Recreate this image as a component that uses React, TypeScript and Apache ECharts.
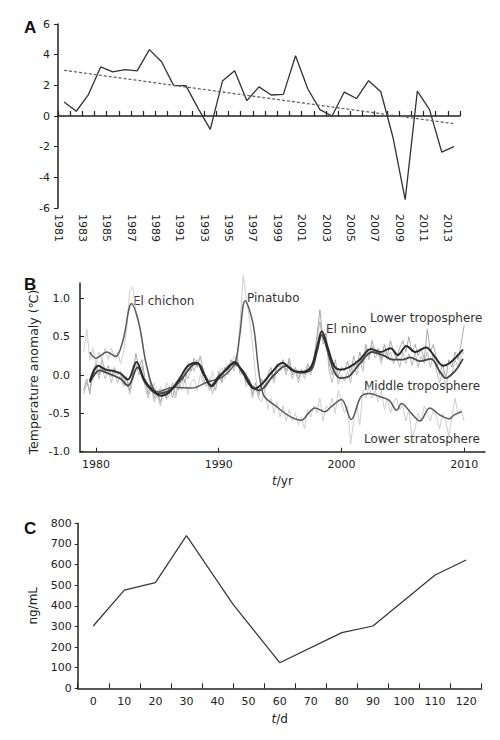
import { useEffect, useRef } from 'react';
import * as echarts from 'echarts';

const FONT = '"DejaVu Sans", Verdana, sans-serif';
const INK = '#222';

// ---------- Panel A ----------
const A_YEARS = ['1981','1982','1983','1984','1985','1986','1987','1988','1989','1990','1991','1992','1993','1994','1995','1996','1997','1998','1999','2000','2001','2002','2003','2004','2005','2006','2007','2008','2009','2010','2011','2012','2013'];
const A_TICK_YEARS = ['1981','1982','1983','1984','1985','1986','1987','1988','1989','1990','1991','1992','1993','1994','1995','1996','1997','1998','1999','2000','2001','2002','2003','2004','2005','2006','2007','2008','2009','2010','2011','2012','2013','2014'];
const A_VALUES = [0.92, 0.31, 1.4, 3.2, 2.88, 3.03, 2.94, 4.33, 3.54, 1.98, 1.98, 0.5, -0.87, 2.28, 2.95, 1.0, 1.9, 1.37, 1.41, 3.93, 1.78, 0.42, 0.0, 1.56, 1.14, 2.3, 1.58, -1.4, -5.45, 1.62, 0.42, -2.35, -2.0];
const A_TREND_START = 2.98;
const A_TREND_END = -0.5;

// ---------- Panel B ----------
const B_RAW_START = 1979;
const B_RAW_STEP = 0.25;
const B_LT_RAW = [
  -0.2, -0.05, -0.25, 0.05,
  0.15, 0.0, 0.2, 0.05,
  0.12, -0.02, 0.1, 0.0,
  0.05, -0.1, -0.02, -0.2,
  0.0, 0.28, 0.1, 0.2,
  -0.05, -0.25, -0.1, -0.3,
  -0.2, -0.35, -0.22, -0.3,
  -0.15, -0.3, -0.1, -0.2,
  0.0, -0.1, 0.15, 0.05,
  0.22, 0.1, 0.25, 0.05,
  -0.05, -0.2, -0.1, -0.2,
  0.05, -0.1, 0.1, 0.05,
  0.2, 0.1, 0.25, 0.05,
  0.05, -0.1, -0.05, -0.25,
  -0.1, -0.25, -0.05, -0.15,
  0.0, 0.1, -0.05, 0.15,
  0.1, 0.2, 0.05, 0.22,
  0.0, 0.1, -0.05, 0.08,
  0.0, 0.15, 0.05, 0.2,
  0.5, 0.85, 0.45, 0.55,
  0.15, 0.0, 0.2, -0.02,
  0.1, 0.05, 0.18, 0.02,
  0.25, 0.1, 0.3, 0.15,
  0.4, 0.25, 0.45, 0.3,
  0.35, 0.2, 0.4, 0.25,
  0.45, 0.3, 0.2, 0.35,
  0.45, 0.3, 0.5, 0.3,
  0.4, 0.25, 0.35, 0.2,
  0.6, 0.3, 0.4, 0.2,
  0.0, 0.15, -0.05, 0.2,
  0.1, 0.3, 0.2, 0.4,
  0.65,
];
const B_MT_RAW = [
  -0.25, -0.1, -0.2, 0.0,
  0.1, -0.05, 0.1, -0.05,
  0.05, -0.1, 0.05, -0.1,
  0.0, -0.15, -0.05, -0.25,
  -0.05, 0.15, 0.0, 0.12,
  -0.15, -0.3, -0.15, -0.35,
  -0.25, -0.4, -0.2, -0.32,
  -0.25, -0.1, -0.3, -0.05,
  -0.1, 0.05, -0.05, 0.15,
  0.05, 0.2, 0.1, -0.05,
  -0.15, -0.05, -0.25, -0.05,
  0.0, -0.1, 0.1, 0.0,
  0.15, 0.05, 0.2, 0.0,
  0.05, -0.15, -0.05, -0.3,
  -0.15, -0.3, -0.1, -0.2,
  -0.05, 0.05, -0.1, 0.1,
  0.05, 0.15, 0.0, 0.18,
  -0.05, 0.05, -0.1, 0.05,
  -0.05, 0.1, 0.0, 0.15,
  0.45, 0.7, 0.4, 0.5,
  0.05, -0.1, 0.1, -0.12,
  0.0, -0.08, 0.05, -0.1,
  0.15, 0.0, 0.22, 0.05,
  0.35, 0.2, 0.38, 0.22,
  0.3, 0.15, 0.32, 0.2,
  0.3, 0.15, 0.25, 0.1,
  0.3, 0.15, 0.28, 0.12,
  0.3, 0.1, 0.25, 0.15,
  0.3, 0.1, 0.28, 0.05,
  -0.1, 0.05, -0.15, 0.0,
  0.0, 0.2, 0.1, 0.25,
  0.3,
];
const B_ST_RAW = [
  0.3, 0.6, 0.2, 0.35,
  0.15, 0.3, 0.2, 0.35,
  0.2, 0.35, 0.25, 0.3,
  0.15, 0.3, 0.6, 1.1,
  1.15, 0.85, 0.7, 0.5,
  0.2, 0.0, -0.2, -0.1,
  -0.3, -0.15, -0.25, -0.1,
  -0.2, -0.1, -0.25, -0.1,
  -0.2, -0.05, -0.25, -0.1,
  -0.05, -0.2, 0.0, -0.1,
  0.0, -0.15, 0.05, -0.1,
  0.0, 0.1, -0.05, 0.15,
  0.1, 0.25, 0.2, 0.7,
  1.3, 1.0, 0.75, 0.4,
  0.0, -0.3, -0.35, -0.2,
  -0.45, -0.3, -0.5, -0.35,
  -0.55, -0.4, -0.6, -0.45,
  -0.6, -0.5, -0.65, -0.55,
  -0.7, -0.45, -0.55, -0.4,
  -0.5, -0.3, -0.6, -0.4,
  -0.45, -0.3, -0.5, -0.2,
  -0.35, -0.5, -0.4, -0.9,
  -0.6, -0.4, -0.65, -0.2,
  -0.3, -0.15, -0.3, -0.2,
  -0.35, -0.2, -0.45, -0.3,
  -0.5, -0.35, -0.3, -0.45,
  -0.4, -0.6, -0.45, -0.8,
  -0.7, -0.5, -0.6, -0.4,
  -0.5, -0.6, -0.45, -0.55,
  -0.7, -0.5, -0.6, -0.8,
  -0.55, -0.3, -0.5, -0.45,
  -0.6,
];
const B_LT_SMOOTH = [[1979.5,-0.08],[1980.2,0.12],[1980.8,0.07],[1981.5,0.05],[1982.0,0.02],[1982.6,-0.06],[1983.3,0.17],[1983.9,-0.05],[1984.5,-0.18],[1985.3,-0.27],[1986.0,-0.22],[1986.8,-0.05],[1987.5,0.12],[1988.2,0.16],[1988.8,0.0],[1989.4,-0.14],[1990.0,-0.02],[1990.7,0.08],[1991.3,0.17],[1992.0,0.02],[1992.9,-0.18],[1993.5,-0.12],[1994.3,0.03],[1995.2,0.16],[1996.0,0.06],[1996.8,0.04],[1997.5,0.1],[1998.0,0.35],[1998.4,0.57],[1998.9,0.35],[1999.4,0.12],[1999.9,0.07],[2000.6,0.1],[2001.5,0.2],[2002.4,0.34],[2003.2,0.3],[2004.0,0.35],[2004.6,0.26],[2005.3,0.38],[2006.0,0.3],[2006.9,0.36],[2007.6,0.24],[2008.3,0.12],[2009.0,0.18],[2009.9,0.33]];
const B_MT_SMOOTH = [[1979.5,-0.1],[1980.3,0.06],[1981.0,0.02],[1982.0,-0.05],[1982.6,-0.14],[1983.4,0.1],[1984.0,-0.1],[1985.0,-0.24],[1986.0,-0.2],[1987.0,-0.05],[1987.8,0.12],[1988.3,0.15],[1989.0,-0.04],[1989.4,-0.15],[1990.2,0.0],[1991.2,0.15],[1992.0,0.05],[1992.7,-0.14],[1993.3,-0.2],[1994.5,0.0],[1995.5,0.12],[1996.5,0.03],[1997.5,0.06],[1998.0,0.3],[1998.4,0.52],[1998.9,0.3],[1999.4,0.05],[1999.9,-0.04],[2000.6,-0.02],[2001.5,0.15],[2002.5,0.3],[2003.5,0.25],[2004.2,0.2],[2005.0,0.2],[2005.6,0.23],[2006.4,0.18],[2007.3,0.21],[2008.0,0.05],[2008.5,-0.04],[2009.3,0.06],[2009.9,0.21]];
const B_ST_SMOOTH = [[1979.5,0.3],[1980.0,0.22],[1980.9,0.3],[1981.6,0.24],[1982.2,0.45],[1982.9,0.93],[1983.5,0.67],[1984.15,0.11],[1985.0,-0.22],[1986.4,-0.16],[1987.8,-0.17],[1989.1,-0.09],[1990.25,-0.03],[1991.3,0.15],[1991.7,0.5],[1992.15,0.97],[1992.8,0.67],[1993.6,-0.24],[1994.7,-0.41],[1995.8,-0.54],[1996.75,-0.59],[1997.3,-0.5],[1997.85,-0.43],[1998.65,-0.48],[1999.2,-0.41],[2000.0,-0.32],[2000.8,-0.58],[2001.6,-0.28],[2002.3,-0.24],[2003.1,-0.28],[2003.9,-0.33],[2004.5,-0.46],[2004.9,-0.37],[2005.7,-0.5],[2006.4,-0.6],[2007.2,-0.43],[2008.0,-0.52],[2008.8,-0.57],[2009.2,-0.52],[2009.8,-0.48]];
const B_X_TICKS = [1980, 1990, 2000, 2010];
const B_Y_TICKS = [-1, -0.5, 0, 0.5, 1];

// ---------- Panel C ----------
const C_TICK_LABELS = ['0','10','20','30','40','50','60','70','80','90','100','110','120'];
const C_DAYS = [0, 10, 20, 30, 45, 60, 80, 90, 110, 120];
const C_VALUES = [302, 476, 512, 740, 407, 124, 270, 302, 549, 622];

const toRaw = (vals: number[]) => vals.map((v, i) => [B_RAW_START + i * B_RAW_STEP, v]);

export default function App() {
  const ref = useRef<HTMLDivElement>(null);
  useEffect(() => {
    if (!ref.current) return;
    const chart = echarts.init(ref.current, null, { renderer: 'svg' });
    const lbl = { fontFamily: FONT, fontSize: 11, color: INK };
    const axLine = { show: true, lineStyle: { color: INK, width: 1.5 } };
    const note = (text: string, x: number, y: number) => ({
      type: 'text', x, y, style: { text, font: '12px ' + FONT, fill: '#333', verticalAlign: 'middle' },
    });
    const letter = (text: string, y: number) => ({
      type: 'text', x: 24, y, style: { text, font: 'bold 17px "Liberation Sans", Arial, sans-serif', fill: '#111', verticalAlign: 'middle' },
    });
    const option: any = {
      animation: false,
      backgroundColor: '#fff',
      grid: [
        { left: 58, top: 24, width: 402, height: 184 },
        { left: 80, top: 283, width: 405, height: 168.7 },
        { left: 77.7, top: 523.3, width: 404, height: 165 },
      ],
      xAxis: [
        {
          type: 'category', gridIndex: 0, position: 'bottom', data: A_TICK_YEARS, boundaryGap: false,
          axisLine: { show: false, onZero: false }, axisTick: { show: false },
          axisLabel: { ...lbl, rotate: -90, interval: 1, margin: 6 },
        },
        {
          type: 'category', gridIndex: 0, position: 'bottom', data: A_YEARS, boundaryGap: true,
          axisLine: { ...axLine, onZero: true },
          axisTick: { show: true, inside: true, length: 5, interval: 0, lineStyle: { color: INK, width: 1.2 } },
          axisLabel: { show: false },
        },
        {
          type: 'value', gridIndex: 1, position: 'bottom', min: 1978.7, max: 2011.7,
          axisLine: { ...axLine, onZero: false },
          axisTick: { show: true, inside: true, length: 4, customValues: B_X_TICKS, lineStyle: { color: INK } },
          axisLabel: { ...lbl, margin: 7, customValues: B_X_TICKS, formatter: (v: number) => String(v) },
          splitLine: { show: false },
          name: '{i|t}/yr', nameLocation: 'middle', nameGap: 23,
          nameTextStyle: { fontFamily: FONT, fontSize: 12, color: INK, rich: { i: { fontFamily: FONT, fontSize: 12, fontStyle: 'italic', color: INK } } },
        },
        {
          type: 'category', gridIndex: 2, position: 'bottom', data: C_TICK_LABELS, boundaryGap: true,
          axisLine: { ...axLine, onZero: false },
          axisTick: { show: true, inside: true, length: 5, interval: 0, lineStyle: { color: INK } },
          axisLabel: { ...lbl, margin: 8, interval: 0 },
          name: '{i|t}/d', nameLocation: 'middle', nameGap: 25,
          nameTextStyle: { fontFamily: FONT, fontSize: 12, color: INK, rich: { i: { fontFamily: FONT, fontSize: 12, fontStyle: 'italic', color: INK } } },
        },
        {
          type: 'value', gridIndex: 2, position: 'bottom', min: -5, max: 125, show: false,
        },
      ],
      yAxis: [
        {
          type: 'value', gridIndex: 0, min: -6, max: 6, interval: 2,
          axisLine: { ...axLine, onZero: false },
          axisTick: { show: true, length: 4, lineStyle: { color: INK } },
          axisLabel: { ...lbl, margin: 8 },
          splitLine: { show: false },
        },
        {
          type: 'value', gridIndex: 1, min: -1, max: 1.2,
          axisLine: { ...axLine, onZero: false },
          axisTick: { show: true, inside: true, length: 4, customValues: B_Y_TICKS, lineStyle: { color: INK } },
          axisLabel: { ...lbl, margin: 10, customValues: B_Y_TICKS, formatter: (v: number) => v.toFixed(1) },
          splitLine: { show: false },
        },
        {
          type: 'value', gridIndex: 2, min: 0, max: 800, interval: 100,
          axisLine: { ...axLine, onZero: false },
          axisTick: { show: true, length: 3, lineStyle: { color: INK } },
          axisLabel: { ...lbl, margin: 6 },
          splitLine: { show: false },
          name: 'ng/mL', nameLocation: 'middle', nameGap: 39,
          nameTextStyle: { fontFamily: FONT, fontSize: 12, color: INK },
        },
      ],
      series: [
        {
          type: 'line', xAxisIndex: 1, yAxisIndex: 0, data: A_VALUES, showSymbol: false,
          lineStyle: { color: '#333', width: 1.3 },
          markLine: {
            silent: true, symbol: ['none', 'none'], label: { show: false },
            lineStyle: { color: '#666', width: 1.3, type: [3, 2] },
            data: [[{ coord: [0, A_TREND_START] }, { coord: [A_VALUES.length - 1, A_TREND_END] }]],
          },
        },
        { type: 'line', xAxisIndex: 2, yAxisIndex: 1, data: toRaw(B_ST_RAW), showSymbol: false, clip: false, lineStyle: { color: '#cfcfcf', width: 1 } },
        { type: 'line', xAxisIndex: 2, yAxisIndex: 1, data: toRaw(B_MT_RAW), showSymbol: false, lineStyle: { color: '#bdbdbd', width: 1 } },
        { type: 'line', xAxisIndex: 2, yAxisIndex: 1, data: toRaw(B_LT_RAW), showSymbol: false, lineStyle: { color: '#aaaaaa', width: 1 } },
        { type: 'line', xAxisIndex: 2, yAxisIndex: 1, data: B_ST_SMOOTH, showSymbol: false, smooth: 0.35, lineStyle: { color: '#5a5a5a', width: 1.5 } },
        { type: 'line', xAxisIndex: 2, yAxisIndex: 1, data: B_MT_SMOOTH, showSymbol: false, smooth: 0.35, lineStyle: { color: '#444', width: 1.8 } },
        { type: 'line', xAxisIndex: 2, yAxisIndex: 1, data: B_LT_SMOOTH, showSymbol: false, smooth: 0.35, lineStyle: { color: '#2a2a2a', width: 2 } },
        {
          type: 'line', xAxisIndex: 4, yAxisIndex: 2, data: C_DAYS.map((d, i) => [d, C_VALUES[i]]),
          showSymbol: false, lineStyle: { color: '#333', width: 1.2 },
        },
      ],
      graphic: [
        letter('A', 27),
        letter('B', 284),
        letter('C', 528),
        {
          type: 'text', x: 33, y: 372, rotation: Math.PI / 2,
          style: { text: 'Temperature anomaly (℃)', font: '12.5px ' + FONT, fill: INK, align: 'center', verticalAlign: 'middle' },
        },
        note('El chichon', 133, 301),
        note('Pinatubo', 247, 298),
        note('El nino', 326, 329),
        note('Lower troposphere', 370, 318),
        note('Middle troposphere', 364, 386),
        note('Lower stratosphere', 364, 439),
      ],
    };
    chart.setOption(option);
    return () => chart.dispose();
  }, []);
  return <div ref={ref} style={{ position: 'absolute', left: 0, top: 0, width: 500, height: 740, background: '#fff' }} />;
}
